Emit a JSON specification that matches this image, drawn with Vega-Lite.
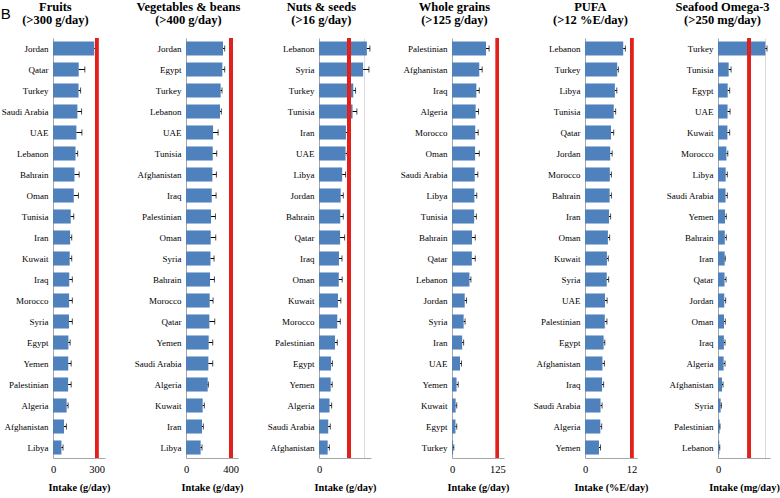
{
  "$schema": "https://vega.github.io/schema/vega-lite/v6.json",
  "padding": {"left": 0, "top": 0, "right": 0, "bottom": 0},
  "title": {"text": "B", "anchor": "start", "frame": "bounds", "font": "Liberation Sans", "fontSize": 15, "fontWeight": "normal", "offset": -21},
  "bounds": "flush",
  "spacing": 81,
  "data": {"values": [
    {"p": "Fruits", "c": "Jordan", "v": 284, "hi": 298},
    {"p": "Fruits", "c": "Qatar", "v": 177, "hi": 219},
    {"p": "Fruits", "c": "Turkey", "v": 176, "hi": 190},
    {"p": "Fruits", "c": "Saudi Arabia", "v": 168, "hi": 197},
    {"p": "Fruits", "c": "UAE", "v": 161, "hi": 199},
    {"p": "Fruits", "c": "Lebanon", "v": 155, "hi": 170},
    {"p": "Fruits", "c": "Bahrain", "v": 148, "hi": 180},
    {"p": "Fruits", "c": "Oman", "v": 143, "hi": 175},
    {"p": "Fruits", "c": "Tunisia", "v": 122, "hi": 143},
    {"p": "Fruits", "c": "Iran", "v": 118, "hi": 129},
    {"p": "Fruits", "c": "Kuwait", "v": 115, "hi": 129},
    {"p": "Fruits", "c": "Iraq", "v": 112, "hi": 133},
    {"p": "Fruits", "c": "Morocco", "v": 111, "hi": 133},
    {"p": "Fruits", "c": "Syria", "v": 110, "hi": 133},
    {"p": "Fruits", "c": "Egypt", "v": 106, "hi": 118},
    {"p": "Fruits", "c": "Yemen", "v": 105, "hi": 125},
    {"p": "Fruits", "c": "Palestinian", "v": 104, "hi": 125},
    {"p": "Fruits", "c": "Algeria", "v": 94, "hi": 104},
    {"p": "Fruits", "c": "Afghanistan", "v": 76, "hi": 92},
    {"p": "Fruits", "c": "Libya", "v": 58, "hi": 69},

    {"p": "Veg", "c": "Jordan", "v": 331, "hi": 346},
    {"p": "Veg", "c": "Egypt", "v": 325, "hi": 346},
    {"p": "Veg", "c": "Turkey", "v": 310, "hi": 322},
    {"p": "Veg", "c": "Lebanon", "v": 304, "hi": 316},
    {"p": "Veg", "c": "UAE", "v": 242, "hi": 287},
    {"p": "Veg", "c": "Tunisia", "v": 239, "hi": 275},
    {"p": "Veg", "c": "Afghanistan", "v": 236, "hi": 272},
    {"p": "Veg", "c": "Iraq", "v": 230, "hi": 269},
    {"p": "Veg", "c": "Palestinian", "v": 224, "hi": 263},
    {"p": "Veg", "c": "Oman", "v": 221, "hi": 266},
    {"p": "Veg", "c": "Syria", "v": 219, "hi": 251},
    {"p": "Veg", "c": "Bahrain", "v": 215, "hi": 254},
    {"p": "Veg", "c": "Morocco", "v": 212, "hi": 242},
    {"p": "Veg", "c": "Qatar", "v": 209, "hi": 257},
    {"p": "Veg", "c": "Yemen", "v": 203, "hi": 239},
    {"p": "Veg", "c": "Saudi Arabia", "v": 200, "hi": 239},
    {"p": "Veg", "c": "Algeria", "v": 194, "hi": 200},
    {"p": "Veg", "c": "Kuwait", "v": 149, "hi": 164},
    {"p": "Veg", "c": "Iran", "v": 143, "hi": 155},
    {"p": "Veg", "c": "Libya", "v": 131, "hi": 143},

    {"p": "Nuts", "c": "Lebanon", "v": 25.4, "hi": 27.0},
    {"p": "Nuts", "c": "Syria", "v": 23.4, "hi": 26.5},
    {"p": "Nuts", "c": "Turkey", "v": 18.2, "hi": 19.4},
    {"p": "Nuts", "c": "Tunisia", "v": 17.8, "hi": 20.1},
    {"p": "Nuts", "c": "Iran", "v": 14.3, "hi": 15.7},
    {"p": "Nuts", "c": "UAE", "v": 14.1, "hi": 15.0},
    {"p": "Nuts", "c": "Libya", "v": 12.3, "hi": 14.1},
    {"p": "Nuts", "c": "Jordan", "v": 11.5, "hi": 12.9},
    {"p": "Nuts", "c": "Bahrain", "v": 11.3, "hi": 12.9},
    {"p": "Nuts", "c": "Qatar", "v": 11.2, "hi": 13.6},
    {"p": "Nuts", "c": "Iraq", "v": 10.6, "hi": 12.2},
    {"p": "Nuts", "c": "Oman", "v": 10.5, "hi": 12.3},
    {"p": "Nuts", "c": "Kuwait", "v": 10.1, "hi": 11.6},
    {"p": "Nuts", "c": "Morocco", "v": 9.7, "hi": 11.3},
    {"p": "Nuts", "c": "Palestinian", "v": 8.5, "hi": 9.7},
    {"p": "Nuts", "c": "Egypt", "v": 6.4, "hi": 7.1},
    {"p": "Nuts", "c": "Yemen", "v": 6.2, "hi": 7.0},
    {"p": "Nuts", "c": "Algeria", "v": 5.6, "hi": 6.7},
    {"p": "Nuts", "c": "Saudi Arabia", "v": 4.9, "hi": 6.0},
    {"p": "Nuts", "c": "Afghanistan", "v": 4.6, "hi": 5.5},

    {"p": "WG", "c": "Palestinian", "v": 93.5, "hi": 102},
    {"p": "WG", "c": "Afghanistan", "v": 75, "hi": 83},
    {"p": "WG", "c": "Iraq", "v": 67, "hi": 75},
    {"p": "WG", "c": "Algeria", "v": 65, "hi": 73},
    {"p": "WG", "c": "Morocco", "v": 64, "hi": 72},
    {"p": "WG", "c": "Oman", "v": 63.5, "hi": 75},
    {"p": "WG", "c": "Saudi Arabia", "v": 62.5, "hi": 71},
    {"p": "WG", "c": "Libya", "v": 61.6, "hi": 68},
    {"p": "WG", "c": "Tunisia", "v": 61, "hi": 67},
    {"p": "WG", "c": "Bahrain", "v": 55, "hi": 64},
    {"p": "WG", "c": "Qatar", "v": 54.5, "hi": 64},
    {"p": "WG", "c": "Lebanon", "v": 48, "hi": 52},
    {"p": "WG", "c": "Jordan", "v": 35, "hi": 40},
    {"p": "WG", "c": "Syria", "v": 32, "hi": 36},
    {"p": "WG", "c": "Iran", "v": 28, "hi": 32},
    {"p": "WG", "c": "UAE", "v": 22, "hi": 26},
    {"p": "WG", "c": "Yemen", "v": 12.5, "hi": 17},
    {"p": "WG", "c": "Kuwait", "v": 10, "hi": 13},
    {"p": "WG", "c": "Egypt", "v": 9.5, "hi": 13},
    {"p": "WG", "c": "Turkey", "v": 3, "hi": 5},

    {"p": "PUFA", "c": "Lebanon", "v": 9.85, "hi": 10.4},
    {"p": "PUFA", "c": "Turkey", "v": 8.3, "hi": 8.6},
    {"p": "PUFA", "c": "Libya", "v": 7.7, "hi": 8.2},
    {"p": "PUFA", "c": "Tunisia", "v": 7.4, "hi": 7.9},
    {"p": "PUFA", "c": "Qatar", "v": 6.7, "hi": 7.4},
    {"p": "PUFA", "c": "Jordan", "v": 6.5, "hi": 7.0},
    {"p": "PUFA", "c": "Morocco", "v": 6.4, "hi": 6.8},
    {"p": "PUFA", "c": "Bahrain", "v": 6.35, "hi": 6.8},
    {"p": "PUFA", "c": "Iran", "v": 6.2, "hi": 6.6},
    {"p": "PUFA", "c": "Oman", "v": 5.9, "hi": 6.35},
    {"p": "PUFA", "c": "Kuwait", "v": 5.65, "hi": 6.0},
    {"p": "PUFA", "c": "Syria", "v": 5.6, "hi": 6.1},
    {"p": "PUFA", "c": "UAE", "v": 5.15, "hi": 5.7},
    {"p": "PUFA", "c": "Palestinian", "v": 5.1, "hi": 5.65},
    {"p": "PUFA", "c": "Egypt", "v": 4.8, "hi": 5.1},
    {"p": "PUFA", "c": "Afghanistan", "v": 4.5, "hi": 5.0},
    {"p": "PUFA", "c": "Iraq", "v": 4.4, "hi": 4.8},
    {"p": "PUFA", "c": "Saudi Arabia", "v": 4.0, "hi": 4.4},
    {"p": "PUFA", "c": "Algeria", "v": 3.95, "hi": 4.3},
    {"p": "PUFA", "c": "Yemen", "v": 3.6, "hi": 4.0},

    {"p": "Omega", "c": "Turkey", "v": 377, "hi": 390},
    {"p": "Omega", "c": "Tunisia", "v": 85, "hi": 104},
    {"p": "Omega", "c": "Egypt", "v": 77, "hi": 93},
    {"p": "Omega", "c": "UAE", "v": 76, "hi": 96},
    {"p": "Omega", "c": "Kuwait", "v": 75, "hi": 93},
    {"p": "Omega", "c": "Morocco", "v": 67, "hi": 78},
    {"p": "Omega", "c": "Libya", "v": 61, "hi": 74},
    {"p": "Omega", "c": "Saudi Arabia", "v": 60, "hi": 74},
    {"p": "Omega", "c": "Yemen", "v": 56, "hi": 66},
    {"p": "Omega", "c": "Bahrain", "v": 54, "hi": 66},
    {"p": "Omega", "c": "Iran", "v": 53, "hi": 58},
    {"p": "Omega", "c": "Qatar", "v": 52, "hi": 64},
    {"p": "Omega", "c": "Jordan", "v": 50, "hi": 61},
    {"p": "Omega", "c": "Oman", "v": 48, "hi": 58},
    {"p": "Omega", "c": "Iraq", "v": 47, "hi": 56},
    {"p": "Omega", "c": "Algeria", "v": 45, "hi": 56},
    {"p": "Omega", "c": "Afghanistan", "v": 32, "hi": 40},
    {"p": "Omega", "c": "Syria", "v": 21, "hi": 27},
    {"p": "Omega", "c": "Palestinian", "v": 13, "hi": 16},
    {"p": "Omega", "c": "Lebanon", "v": 10, "hi": 14}
  ]},
  "hconcat": [
    {
      "width": 52, "height": 420,
      "title": {"text": ["Fruits", "(>300 g/day)"]},
      "transform": [{"filter": "datum.p == 'Fruits'"}],
      "layer": [
        {"mark": {"type": "bar", "color": "#4f81bd"},
         "encoding": {
           "y": {"field": "c", "type": "nominal", "sort": ["Jordan","Qatar","Turkey","Saudi Arabia","UAE","Lebanon","Bahrain","Oman","Tunisia","Iran","Kuwait","Iraq","Morocco","Syria","Egypt","Yemen","Palestinian","Algeria","Afghanistan","Libya"], "title": null},
           "x": {"field": "v", "type": "quantitative", "scale": {"domain": [0, 358], "nice": false}, "axis": {"values": [0, 150, 300], "labelExpr": "datum.value == 150 ? '' : datum.label", "title": "Intake (g/day)"}}}},
        {"mark": {"type": "rule", "color": "black", "strokeWidth": 1},
         "encoding": {"y": {"field": "c", "type": "nominal", "sort": ["Jordan","Qatar","Turkey","Saudi Arabia","UAE","Lebanon","Bahrain","Oman","Tunisia","Iran","Kuwait","Iraq","Morocco","Syria","Egypt","Yemen","Palestinian","Algeria","Afghanistan","Libya"]}, "x": {"field": "v", "type": "quantitative", "scale": {"domain": [0, 358], "nice": false}}, "x2": {"field": "hi"}}},
        {"mark": {"type": "tick", "color": "black", "size": 6, "thickness": 1},
         "encoding": {"y": {"field": "c", "type": "nominal", "sort": ["Jordan","Qatar","Turkey","Saudi Arabia","UAE","Lebanon","Bahrain","Oman","Tunisia","Iran","Kuwait","Iraq","Morocco","Syria","Egypt","Yemen","Palestinian","Algeria","Afghanistan","Libya"]}, "x": {"field": "hi", "type": "quantitative", "scale": {"domain": [0, 358], "nice": false}}}},
        {"mark": {"type": "rule", "color": "#e3201b", "strokeWidth": 3},
         "encoding": {"x": {"datum": 300, "type": "quantitative", "scale": {"domain": [0, 358], "nice": false}}}}
      ]
    },
    {
      "width": 52, "height": 420,
      "title": {"text": ["Vegetables & beans", "(>400 g/day)"]},
      "transform": [{"filter": "datum.p == 'Veg'"}],
      "layer": [
        {"mark": {"type": "bar", "color": "#4f81bd"},
         "encoding": {
           "y": {"field": "c", "type": "nominal", "sort": ["Jordan","Egypt","Turkey","Lebanon","UAE","Tunisia","Afghanistan","Iraq","Palestinian","Oman","Syria","Bahrain","Morocco","Qatar","Yemen","Saudi Arabia","Algeria","Kuwait","Iran","Libya"], "title": null},
           "x": {"field": "v", "type": "quantitative", "scale": {"domain": [0, 465], "nice": false}, "axis": {"values": [0, 200, 400], "labelExpr": "datum.value == 200 ? '' : datum.label", "title": "Intake (g/day)"}}}},
        {"mark": {"type": "rule", "color": "black", "strokeWidth": 1},
         "encoding": {"y": {"field": "c", "type": "nominal", "sort": ["Jordan","Egypt","Turkey","Lebanon","UAE","Tunisia","Afghanistan","Iraq","Palestinian","Oman","Syria","Bahrain","Morocco","Qatar","Yemen","Saudi Arabia","Algeria","Kuwait","Iran","Libya"]}, "x": {"field": "v", "type": "quantitative", "scale": {"domain": [0, 465], "nice": false}}, "x2": {"field": "hi"}}},
        {"mark": {"type": "tick", "color": "black", "size": 6, "thickness": 1},
         "encoding": {"y": {"field": "c", "type": "nominal", "sort": ["Jordan","Egypt","Turkey","Lebanon","UAE","Tunisia","Afghanistan","Iraq","Palestinian","Oman","Syria","Bahrain","Morocco","Qatar","Yemen","Saudi Arabia","Algeria","Kuwait","Iran","Libya"]}, "x": {"field": "hi", "type": "quantitative", "scale": {"domain": [0, 465], "nice": false}}}},
        {"mark": {"type": "rule", "color": "#e3201b", "strokeWidth": 3},
         "encoding": {"x": {"datum": 400, "type": "quantitative", "scale": {"domain": [0, 465], "nice": false}}}}
      ]
    },
    {
      "width": 52, "height": 420,
      "title": {"text": ["Nuts & seeds", "(>16 g/day)"]},
      "transform": [{"filter": "datum.p == 'Nuts'"}],
      "layer": [
        {"mark": {"type": "bar", "color": "#4f81bd"},
         "encoding": {
           "y": {"field": "c", "type": "nominal", "sort": ["Lebanon","Syria","Turkey","Tunisia","Iran","UAE","Libya","Jordan","Bahrain","Qatar","Iraq","Oman","Kuwait","Morocco","Palestinian","Egypt","Yemen","Algeria","Saudi Arabia","Afghanistan"], "title": null},
           "x": {"field": "v", "type": "quantitative", "scale": {"domain": [0, 27.6], "nice": false}, "axis": {"values": [0, 8, 16, 24], "labelExpr": "datum.value == 8 || datum.value == 24 ? '' : datum.label", "title": "Intake (g/day)"}}}},
        {"mark": {"type": "rule", "color": "black", "strokeWidth": 1},
         "encoding": {"y": {"field": "c", "type": "nominal", "sort": ["Lebanon","Syria","Turkey","Tunisia","Iran","UAE","Libya","Jordan","Bahrain","Qatar","Iraq","Oman","Kuwait","Morocco","Palestinian","Egypt","Yemen","Algeria","Saudi Arabia","Afghanistan"]}, "x": {"field": "v", "type": "quantitative", "scale": {"domain": [0, 27.6], "nice": false}}, "x2": {"field": "hi"}}},
        {"mark": {"type": "tick", "color": "black", "size": 6, "thickness": 1},
         "encoding": {"y": {"field": "c", "type": "nominal", "sort": ["Lebanon","Syria","Turkey","Tunisia","Iran","UAE","Libya","Jordan","Bahrain","Qatar","Iraq","Oman","Kuwait","Morocco","Palestinian","Egypt","Yemen","Algeria","Saudi Arabia","Afghanistan"]}, "x": {"field": "hi", "type": "quantitative", "scale": {"domain": [0, 27.6], "nice": false}}}},
        {"mark": {"type": "rule", "color": "#e3201b", "strokeWidth": 3},
         "encoding": {"x": {"datum": 16, "type": "quantitative", "scale": {"domain": [0, 27.6], "nice": false}}}}
      ]
    },
    {
      "width": 52, "height": 420,
      "title": {"text": ["Whole grains", "(>125 g/day)"]},
      "transform": [{"filter": "datum.p == 'WG'"}],
      "layer": [
        {"mark": {"type": "bar", "color": "#4f81bd"},
         "encoding": {
           "y": {"field": "c", "type": "nominal", "sort": ["Palestinian","Afghanistan","Iraq","Algeria","Morocco","Oman","Saudi Arabia","Libya","Tunisia","Bahrain","Qatar","Lebanon","Jordan","Syria","Iran","UAE","Yemen","Kuwait","Egypt","Turkey"], "title": null},
           "x": {"field": "v", "type": "quantitative", "scale": {"domain": [0, 143], "nice": false}, "axis": {"values": [0, 62.5, 125], "labelExpr": "datum.value == 62.5 ? '' : datum.label", "title": "Intake (g/day)"}}}},
        {"mark": {"type": "rule", "color": "black", "strokeWidth": 1},
         "encoding": {"y": {"field": "c", "type": "nominal", "sort": ["Palestinian","Afghanistan","Iraq","Algeria","Morocco","Oman","Saudi Arabia","Libya","Tunisia","Bahrain","Qatar","Lebanon","Jordan","Syria","Iran","UAE","Yemen","Kuwait","Egypt","Turkey"]}, "x": {"field": "v", "type": "quantitative", "scale": {"domain": [0, 143], "nice": false}}, "x2": {"field": "hi"}}},
        {"mark": {"type": "tick", "color": "black", "size": 6, "thickness": 1},
         "encoding": {"y": {"field": "c", "type": "nominal", "sort": ["Palestinian","Afghanistan","Iraq","Algeria","Morocco","Oman","Saudi Arabia","Libya","Tunisia","Bahrain","Qatar","Lebanon","Jordan","Syria","Iran","UAE","Yemen","Kuwait","Egypt","Turkey"]}, "x": {"field": "hi", "type": "quantitative", "scale": {"domain": [0, 143], "nice": false}}}},
        {"mark": {"type": "rule", "color": "#e3201b", "strokeWidth": 3},
         "encoding": {"x": {"datum": 125, "type": "quantitative", "scale": {"domain": [0, 143], "nice": false}}}}
      ]
    },
    {
      "width": 52, "height": 420,
      "title": {"text": ["PUFA", "(>12 %E/day)"]},
      "transform": [{"filter": "datum.p == 'PUFA'"}],
      "layer": [
        {"mark": {"type": "bar", "color": "#4f81bd"},
         "encoding": {
           "y": {"field": "c", "type": "nominal", "sort": ["Lebanon","Turkey","Libya","Tunisia","Qatar","Jordan","Morocco","Bahrain","Iran","Oman","Kuwait","Syria","UAE","Palestinian","Egypt","Afghanistan","Iraq","Saudi Arabia","Algeria","Yemen"], "title": null},
           "x": {"field": "v", "type": "quantitative", "scale": {"domain": [0, 13.4], "nice": false}, "axis": {"values": [0, 6, 12], "labelExpr": "datum.value == 6 ? '' : datum.label", "title": "Intake (%E/day)"}}}},
        {"mark": {"type": "rule", "color": "black", "strokeWidth": 1},
         "encoding": {"y": {"field": "c", "type": "nominal", "sort": ["Lebanon","Turkey","Libya","Tunisia","Qatar","Jordan","Morocco","Bahrain","Iran","Oman","Kuwait","Syria","UAE","Palestinian","Egypt","Afghanistan","Iraq","Saudi Arabia","Algeria","Yemen"]}, "x": {"field": "v", "type": "quantitative", "scale": {"domain": [0, 13.4], "nice": false}}, "x2": {"field": "hi"}}},
        {"mark": {"type": "tick", "color": "black", "size": 6, "thickness": 1},
         "encoding": {"y": {"field": "c", "type": "nominal", "sort": ["Lebanon","Turkey","Libya","Tunisia","Qatar","Jordan","Morocco","Bahrain","Iran","Oman","Kuwait","Syria","UAE","Palestinian","Egypt","Afghanistan","Iraq","Saudi Arabia","Algeria","Yemen"]}, "x": {"field": "hi", "type": "quantitative", "scale": {"domain": [0, 13.4], "nice": false}}}},
        {"mark": {"type": "rule", "color": "#e3201b", "strokeWidth": 3},
         "encoding": {"x": {"datum": 12, "type": "quantitative", "scale": {"domain": [0, 13.4], "nice": false}}}}
      ]
    },
    {
      "width": 52, "height": 420,
      "title": {"text": ["Seafood Omega-3", "(>250 mg/day)"]},
      "transform": [{"filter": "datum.p == 'Omega'"}],
      "layer": [
        {"mark": {"type": "bar", "color": "#4f81bd"},
         "encoding": {
           "y": {"field": "c", "type": "nominal", "sort": ["Turkey","Tunisia","Egypt","UAE","Kuwait","Morocco","Libya","Saudi Arabia","Yemen","Bahrain","Iran","Qatar","Jordan","Oman","Iraq","Algeria","Afghanistan","Syria","Palestinian","Lebanon"], "title": null},
           "x": {"field": "v", "type": "quantitative", "scale": {"domain": [0, 414], "nice": false}, "axis": {"values": [0, 125, 250, 375], "labelExpr": "datum.value == 125 || datum.value == 375 ? '' : datum.label", "title": "Intake (mg/day)"}}}},
        {"mark": {"type": "rule", "color": "black", "strokeWidth": 1},
         "encoding": {"y": {"field": "c", "type": "nominal", "sort": ["Turkey","Tunisia","Egypt","UAE","Kuwait","Morocco","Libya","Saudi Arabia","Yemen","Bahrain","Iran","Qatar","Jordan","Oman","Iraq","Algeria","Afghanistan","Syria","Palestinian","Lebanon"]}, "x": {"field": "v", "type": "quantitative", "scale": {"domain": [0, 414], "nice": false}}, "x2": {"field": "hi"}}},
        {"mark": {"type": "tick", "color": "black", "size": 6, "thickness": 1},
         "encoding": {"y": {"field": "c", "type": "nominal", "sort": ["Turkey","Tunisia","Egypt","UAE","Kuwait","Morocco","Libya","Saudi Arabia","Yemen","Bahrain","Iran","Qatar","Jordan","Oman","Iraq","Algeria","Afghanistan","Syria","Palestinian","Lebanon"]}, "x": {"field": "hi", "type": "quantitative", "scale": {"domain": [0, 414], "nice": false}}}},
        {"mark": {"type": "rule", "color": "#e3201b", "strokeWidth": 3},
         "encoding": {"x": {"datum": 250, "type": "quantitative", "scale": {"domain": [0, 414], "nice": false}}}}
      ]
    }
  ],
  "config": {
    "view": {"stroke": null},
    "font": "Liberation Serif",
    "scale": {"bandPaddingInner": 0.33, "bandPaddingOuter": 0.165},
    "title": {"font": "Liberation Serif", "fontSize": 12.5, "fontWeight": "bold", "color": "black", "lineHeight": 13.5, "offset": 10, "anchor": "middle", "frame": "bounds"},
    "axisY": {"ticks": false, "domainColor": "#a6a6a6", "labelFont": "Liberation Serif", "labelFontSize": 9, "labelColor": "black", "labelPadding": 5, "grid": false},
    "axisX": {"ticks": false, "domainColor": "#a6a6a6", "grid": true, "gridColor": "#d9d9d9", "labelFont": "Liberation Serif", "labelFontSize": 10.5, "labelColor": "black", "labelPadding": 6, "titleFont": "Liberation Serif", "titleFontSize": 10.3, "titleFontWeight": "bold", "titleColor": "black", "titlePadding": 8, "labelFlush": false}
  }
}
